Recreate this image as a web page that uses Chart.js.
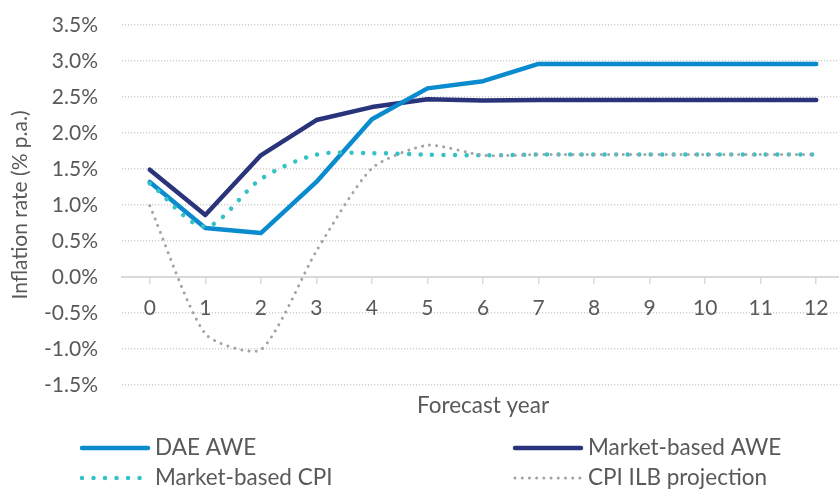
<!DOCTYPE html>
<html>
<head>
<meta charset="utf-8">
<script src="https://cdn.jsdelivr.net/npm/chart.js@4"></script>
<style>
  html, body { margin: 0; padding: 0; background: #ffffff; overflow: hidden; }
  #wrap { width: 844px; height: 491px; position: relative; }
</style>
</head>
<body>
<div id="wrap"><canvas id="chart"></canvas></div>
<script>
// Forecast years (x categories)
const years = ['0', '1', '2', '3', '4', '5', '6', '7', '8', '9', '10', '11', '12'];

// Inflation projections, % p.a.
const daeAwe    = [1.32, 0.68, 0.61, 1.32, 2.19, 2.62, 2.72, 2.96, 2.96, 2.96, 2.96, 2.96, 2.96];
const marketAwe = [1.49, 0.86, 1.69, 2.18, 2.36, 2.47, 2.45, 2.46, 2.46, 2.46, 2.46, 2.46, 2.46];
const marketCpi = [1.30, 0.70, 1.36, 1.70, 1.72, 1.70, 1.69, 1.70, 1.70, 1.70, 1.70, 1.70, 1.70];
const cpiIlb    = [0.99, -0.79, -1.01, 0.36, 1.51, 1.83, 1.69, 1.70, 1.70, 1.70, 1.70, 1.70, 1.70];

// Y-axis tick range
const yTicks = { min: -1.5, max: 3.5, step: 0.5 };

const FONT = 'Lato, "Open Sans", sans-serif';
const TEXT = '#595959';
const GRID = '#cfcfcf';

// Two-column legend drawn under the x-axis title
const legendPlugin = {
  id: 'twoColLegend',
  afterDraw(chart) {
    const ctx = chart.ctx;
    const slots = [
      { x: 82, y: 448 }, { x: 515, y: 448 },
      { x: 82, y: 478 }, { x: 515, y: 478 }
    ];
    chart.data.datasets.forEach((ds, i) => {
      const s = slots[i];
      ctx.save();
      ctx.strokeStyle = ds.borderColor;
      ctx.lineWidth = ds.borderWidth;
      ctx.lineCap = ds.borderCapStyle || 'butt';
      ctx.setLineDash(ds.borderDash || []);
      ctx.beginPath();
      ctx.moveTo(s.x, s.y);
      ctx.lineTo(s.x + 66, s.y);
      ctx.stroke();
      ctx.setLineDash([]);
      ctx.fillStyle = TEXT;
      ctx.font = '22.5px ' + FONT;
      ctx.textBaseline = 'middle';
      ctx.textAlign = 'left';
      ctx.fillText(ds.label, s.x + 73, s.y);
      ctx.restore();
    });
  }
};

new Chart(document.getElementById('chart'), {
  type: 'line',
  data: {
    labels: years,
    datasets: [
      {
        label: 'DAE AWE',
        data: daeAwe,
        borderColor: '#0a8bcd',
        borderWidth: 4.5,
        borderCapStyle: 'round',
        borderJoinStyle: 'round',
        tension: 0,
        pointRadius: 0,
        order: 2
      },
      {
        label: 'Market-based AWE',
        data: marketAwe,
        borderColor: '#2a347b',
        borderWidth: 4.5,
        borderCapStyle: 'round',
        borderJoinStyle: 'round',
        tension: 0,
        pointRadius: 0,
        order: 3
      },
      {
        label: 'Market-based CPI',
        data: marketCpi,
        borderColor: '#35c2c7',
        borderWidth: 4.5,
        borderCapStyle: 'round',
        borderDash: [0.01, 11.5],
        tension: 0.3,
        pointRadius: 0,
        order: 1
      },
      {
        label: 'CPI ILB projection',
        data: cpiIlb,
        borderColor: '#a3a3a3',
        borderWidth: 3,
        borderCapStyle: 'round',
        borderDash: [0.01, 7.2],
        tension: 0.22,
        pointRadius: 0,
        order: 0
      }
    ]
  },
  options: {
    responsive: true,
    maintainAspectRatio: false,
    animation: false,
    devicePixelRatio: 1,
    layout: { padding: { top: 25, right: 0, left: 0, bottom: 0 } },
    plugins: {
      legend: { display: false },
      tooltip: { enabled: false }
    },
    scales: {
      x: {
        type: 'category',
        position: { y: 0 },
        offset: true,
        grid: {
          offset: false,
          drawOnChartArea: false,
          drawTicks: true,
          tickLength: 6,
          color: '#d9d9d9',
          lineWidth: 1.5
        },
        border: { display: true, color: '#d9d9d9', width: 2 },
        ticks: {
          color: TEXT,
          font: { family: FONT, size: 21 },
          padding: 13,
          maxRotation: 0,
          autoSkip: false
        }
      },
      xTitle: {
        type: 'category',
        position: 'bottom',
        labels: years,
        grid: { display: false },
        border: { display: false },
        ticks: { display: false, padding: 0 },
        title: {
          display: true,
          text: 'Forecast year',
          color: TEXT,
          font: { family: FONT, size: 22.5 },
          padding: { top: 0, bottom: 72 }
        },
        afterFit(scale) { scale.height = 106; }
      },
      y: {
        min: yTicks.min,
        max: yTicks.max,
        grid: {
          drawTicks: true,
          tickLength: 24,
          tickColor: 'rgba(0,0,0,0)',
          color: GRID,
          lineWidth: 1.4
        },
        border: { display: false, dash: [1.2, 1.8] },
        ticks: {
          stepSize: yTicks.step,
          color: TEXT,
          font: { family: FONT, size: 21 },
          padding: 0,
          callback: v => v.toFixed(1) + '%'
        },
        title: {
          display: true,
          text: 'Inflation rate (% p.a.)',
          color: TEXT,
          font: { family: FONT, size: 21 },
          padding: { top: 8, bottom: 0 }
        },
        afterFit(scale) { scale.width = 122; }
      }
    }
  },
  plugins: [legendPlugin]
});
</script>
</body>
</html>
